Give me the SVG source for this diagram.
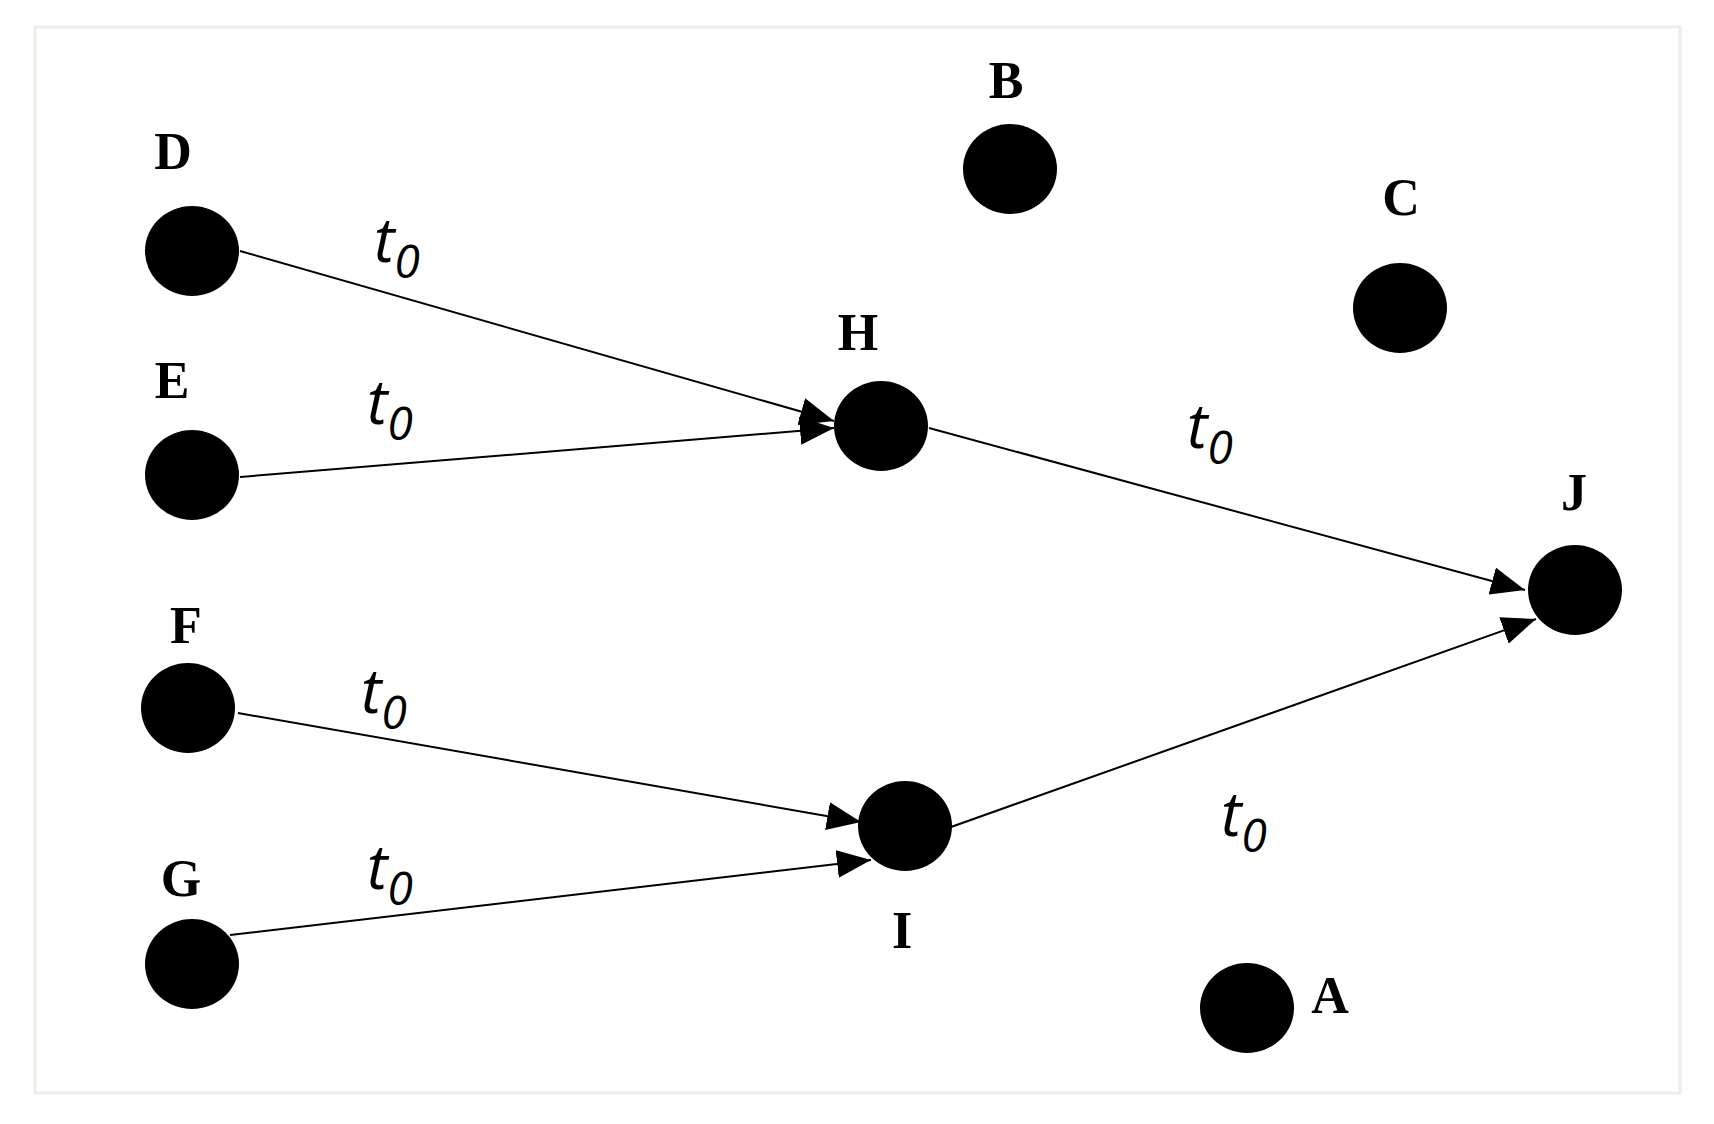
<svg xmlns="http://www.w3.org/2000/svg" width="1714" height="1124" viewBox="0 0 1714 1124">
<style>
.n{fill:#000}
.lb{font-family:"Liberation Serif",serif;font-weight:bold;font-size:52px;fill:#000;text-anchor:middle}
.t{font-family:"Open Sans",sans-serif;font-style:italic;font-size:62px;fill:#000}
.s{font-size:46px}
.e{stroke:#000;stroke-width:2;fill:none;marker-end:url(#ah)}
</style>
<defs>
<marker id="ah" markerUnits="userSpaceOnUse" markerWidth="34" markerHeight="28" viewBox="0 0 34 28" refX="34" refY="14" orient="auto">
<path d="M0,0 L34,14 L0,28 Z" fill="#000"/>
</marker>
</defs>
<rect x="0" y="0" width="1714" height="1124" fill="#fff"/>
<rect x="35" y="27" width="1645" height="1066" fill="none" stroke="#ecefe6" stroke-width="3"/>
<g id="connectors">
<line class="e" x1="240" y1="251" x2="834" y2="421"/>
<line class="e" x1="240" y1="477" x2="834" y2="428"/>
<line class="e" x1="929" y1="428" x2="1525" y2="590"/>
<line class="e" x1="238" y1="713" x2="861" y2="822"/>
<line class="e" x1="230" y1="935" x2="871" y2="860"/>
<line class="e" x1="951" y1="827" x2="1536" y2="619"/>
<text class="t" x="374" y="262">t<tspan class="s" dy="16">0</tspan></text>
<text class="t" x="367" y="424">t<tspan class="s" dy="16">0</tspan></text>
<text class="t" x="1187" y="448">t<tspan class="s" dy="16">0</tspan></text>
<text class="t" x="361" y="713">t<tspan class="s" dy="16">0</tspan></text>
<text class="t" x="367" y="889">t<tspan class="s" dy="16">0</tspan></text>
<text class="t" x="1221" y="836">t<tspan class="s" dy="16">0</tspan></text>
</g>
<g id="D"><ellipse class="n" cx="192" cy="251" rx="47" ry="45"/><text class="lb" x="173" y="169">D</text></g>
<g id="E"><ellipse class="n" cx="192" cy="475" rx="47" ry="45"/><text class="lb" x="172" y="398">E</text></g>
<g id="F"><ellipse class="n" cx="188" cy="708" rx="47" ry="45"/><text class="lb" x="186" y="643">F</text></g>
<g id="G"><ellipse class="n" cx="192" cy="964" rx="47" ry="45"/><text class="lb" x="181" y="896">G</text></g>
<g id="H"><ellipse class="n" cx="881" cy="426" rx="47" ry="45"/><text class="lb" x="858" y="350">H</text></g>
<g id="I"><ellipse class="n" cx="905" cy="826" rx="47" ry="45"/><text class="lb" x="902" y="948">I</text></g>
<g id="J"><ellipse class="n" cx="1575" cy="590" rx="47" ry="45"/><text class="lb" x="1574" y="510">J</text></g>
<g id="B"><ellipse class="n" cx="1010" cy="169" rx="47" ry="45"/><text class="lb" x="1006" y="98">B</text></g>
<g id="C"><ellipse class="n" cx="1400" cy="308" rx="47" ry="45"/><text class="lb" x="1401" y="215">C</text></g>
<g id="A"><ellipse class="n" cx="1247" cy="1008" rx="47" ry="45"/><text class="lb" x="1330" y="1013">A</text></g>
</svg>
